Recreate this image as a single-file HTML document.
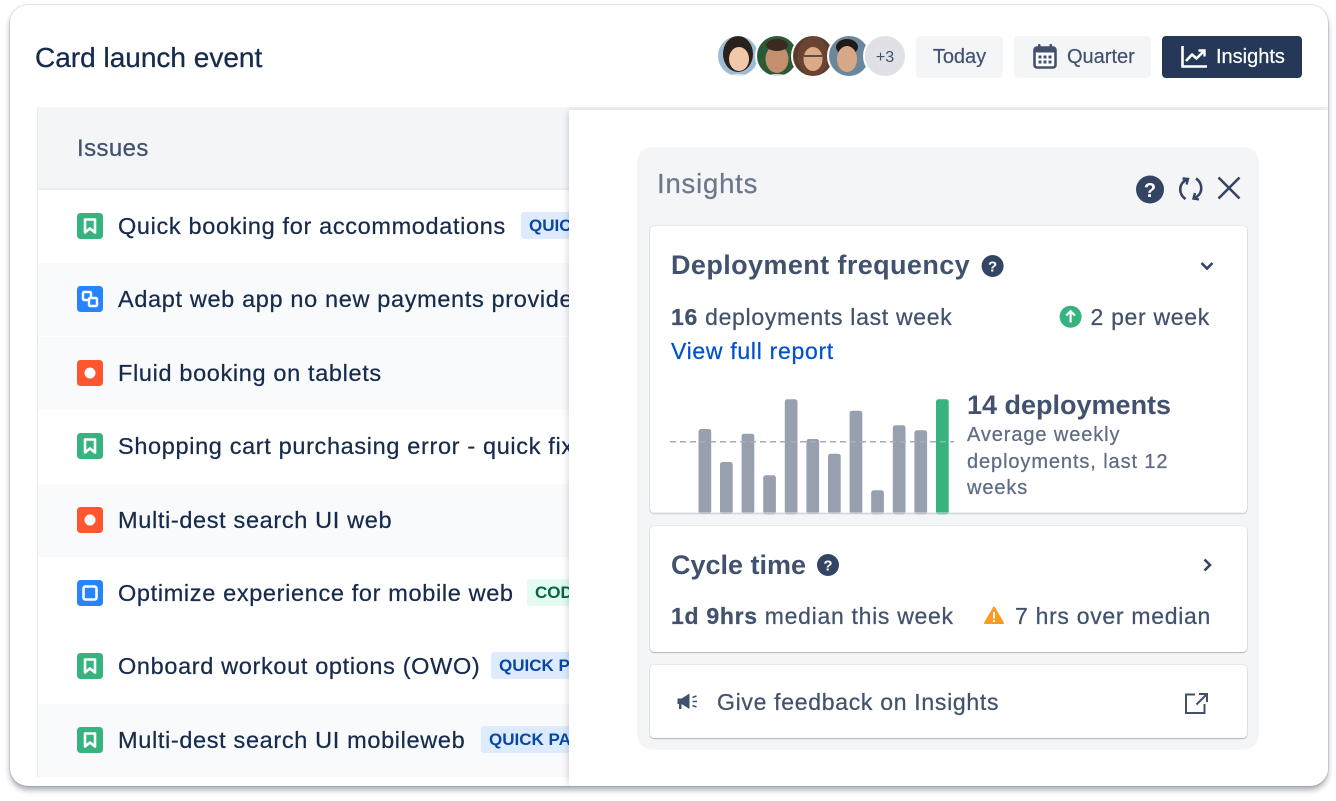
<!DOCTYPE html>
<html><head><meta charset="utf-8">
<style>
*{box-sizing:border-box;margin:0;padding:0}
html,body{width:1336px;height:801px;background:#fff;overflow:hidden;font-family:"Liberation Sans",Arial,sans-serif}
.card{position:absolute;left:10px;top:5px;width:1318px;height:781px;border-radius:18px;overflow:hidden;background:#fff;box-shadow:0 0 0 1px rgba(9,30,66,0.10),0 4px 6px rgba(60,70,90,0.45)}
.layer{position:absolute;left:-10px;top:-5px;width:1336px;height:801px}
.t{position:absolute;white-space:nowrap}
.row{position:absolute;left:38px;width:531px;height:73px;z-index:1}
.rt{position:absolute;left:118px;font-size:23.5px;letter-spacing:0.65px;color:#172b4d;line-height:30px;white-space:nowrap;z-index:2;-webkit-text-stroke:0.25px #172b4d}
.tag{position:absolute;height:27px;line-height:27px;padding:0 8px;border-radius:3px;font-weight:bold;font-size:17px;white-space:nowrap;z-index:2;background:#deebff;color:#0747a6}
.btn{position:absolute;top:36px;height:42px;border-radius:4px;background:#f4f5f7;color:#42526e;font-size:20px;line-height:42px;white-space:nowrap;-webkit-text-stroke:0.2px #42526e}
.pc{position:absolute;background:#fff;border-radius:4px;box-shadow:0 1px 1px rgba(9,30,66,0.25),0 0 1px rgba(9,30,66,0.35);z-index:6}
.pt{position:absolute;white-space:nowrap;color:#42526e;z-index:7;-webkit-text-stroke:0.25px currentColor}
</style></head><body>
<div class="card"><div class="layer">

<div class="t" style="left:35px;top:41px;font-size:28px;line-height:34px;color:#172b4d;-webkit-text-stroke:0.3px #172b4d">Card launch event</div>

<div class="btn" style="left:916px;width:87px;text-align:center">Today</div>
<div class="btn" style="left:1014px;width:137px"><span style="position:absolute;left:53px">Quarter</span></div>
<div class="btn" style="left:1162px;width:140px;background:#253858;color:#fff;-webkit-text-stroke:0.2px #fff"><span style="position:absolute;left:54px">Insights</span></div>

<!-- board -->
<div style="position:absolute;left:37px;top:107px;width:1291px;height:670px;background:#fff;border-left:1px solid #e6e8ec"></div>
<div style="position:absolute;left:37px;top:107px;width:1291px;height:3px;background:#eef0f2"></div>
<div style="position:absolute;left:38px;top:107px;width:531px;height:83px;background:#f4f5f7;border-bottom:2px solid #ebecf0"></div>
<div class="t" style="left:77px;top:134px;font-size:24px;letter-spacing:0.4px;line-height:30px;color:#42526e;-webkit-text-stroke:0.25px #42526e">Issues</div>

<div class="row" style="top:190px;background:#fff"></div>
<div class="row" style="top:263px;background:#f9fafb"></div>
<div class="row" style="top:337px;background:#f9fafb"></div>
<div class="row" style="top:410px;background:#fff"></div>
<div class="row" style="top:484px;background:#f9fafb"></div>
<div class="row" style="top:557px;background:#fff"></div>
<div class="row" style="top:630px;background:#fff"></div>
<div class="row" style="top:704px;height:73px;background:#f9fafb"></div>

<div class="rt" style="top:211px">Quick booking for accommodations</div>
<div class="rt" style="top:284px">Adapt web app no new payments provider</div>
<div class="rt" style="top:358px">Fluid booking on tablets</div>
<div class="rt" style="top:431px">Shopping cart purchasing error - quick fix</div>
<div class="rt" style="top:505px">Multi-dest search UI web</div>
<div class="rt" style="top:578px">Optimize experience for mobile web</div>
<div class="rt" style="top:651px">Onboard workout options (OWO)</div>
<div class="rt" style="top:725px">Multi-dest search UI mobileweb</div>

<div class="tag" style="left:521px;top:212px">QUICK PAYMENTS</div>
<div class="tag" style="left:527px;top:579px;background:#e3fcef;color:#006644">CODE REVIEW</div>
<div class="tag" style="left:491px;top:652px">QUICK PAYMENTS</div>
<div class="tag" style="left:481px;top:726px">QUICK PAYMENTS</div>

<!-- insights panel -->
<div style="position:absolute;left:569px;top:110px;width:759px;height:676px;background:#fff;z-index:5;box-shadow:-3px 0 6px -2px rgba(9,30,66,0.18)"></div>
<div style="position:absolute;left:637px;top:147px;width:622px;height:603px;background:#f4f5f7;border-radius:16px;z-index:5"></div>
<div class="pt" style="left:657px;top:167px;font-size:27.5px;letter-spacing:0.8px;line-height:34px;color:#6b778c">Insights</div>

<div class="pc" style="left:650px;top:226px;width:597px;height:287px"></div>
<div class="pt" style="left:671px;top:249px;font-size:27px;font-weight:bold;letter-spacing:0.4px;line-height:32px;-webkit-text-stroke:0">Deployment frequency</div>
<div class="pt" style="left:671px;top:302px;font-size:23px;letter-spacing:0.7px;line-height:30px"><b>16</b> deployments last week</div>
<div class="pt" style="left:1010px;width:200px;text-align:right;top:302px;font-size:23px;letter-spacing:0.7px;line-height:30px">2 per week</div>
<div class="pt" style="left:671px;top:336px;font-size:23px;letter-spacing:0.7px;line-height:30px;color:#0052cc">View full report</div>
<div class="pt" style="left:967px;top:389px;font-size:27px;font-weight:bold;letter-spacing:0px;line-height:32px;-webkit-text-stroke:0">14 deployments</div>
<div class="pt" style="left:967px;top:422px;font-size:20px;letter-spacing:0.9px;line-height:26.5px;color:#5e6c84">Average weekly<br>deployments, last 12<br>weeks</div>

<div class="pc" style="left:650px;top:526px;width:597px;height:126px"></div>
<div class="pt" style="left:671px;top:549px;font-size:27px;font-weight:bold;letter-spacing:0px;line-height:32px;-webkit-text-stroke:0">Cycle time</div>
<div class="pt" style="left:671px;top:601px;font-size:23px;letter-spacing:0.7px;line-height:30px"><b>1d 9hrs</b> median this week</div>
<div class="pt" style="left:1000px;width:211px;text-align:right;top:601px;font-size:23px;letter-spacing:0.7px;line-height:30px">7 hrs over median</div>

<div class="pc" style="left:650px;top:665px;width:597px;height:73px"></div>
<div class="pt" style="left:717px;top:687px;font-size:23px;letter-spacing:0.7px;line-height:30px">Give feedback on Insights</div>

<svg style="position:absolute;left:0;top:0;z-index:10" width="1336" height="801" viewBox="0 0 1336 801">
<defs>
<clipPath id="c1"><circle cx="738" cy="56" r="20.5"/></clipPath>
<clipPath id="c2"><circle cx="777" cy="56" r="20.5"/></clipPath>
<clipPath id="c3"><circle cx="813" cy="56" r="20.5"/></clipPath>
<clipPath id="c4"><circle cx="849" cy="56" r="20.5"/></clipPath>
</defs>
<!-- avatars -->
<g clip-path="url(#c1)">
<rect x="715" y="33" width="46" height="46" fill="#9dbdd6"/>
<ellipse cx="738" cy="54" rx="15" ry="18" fill="#2a211d"/>
<ellipse cx="739" cy="59" rx="10" ry="12" fill="#f0c9aa"/>
<ellipse cx="738" cy="82" rx="16" ry="8" fill="#e6e8ee"/>
</g>
<circle cx="738" cy="56" r="21" fill="none" stroke="#fff" stroke-width="2"/>
<g clip-path="url(#c2)">
<rect x="754" y="33" width="46" height="46" fill="#2d5a36"/>
<ellipse cx="777" cy="59" rx="11.5" ry="14" fill="#c48f6c"/>
<ellipse cx="777" cy="45" rx="11" ry="6" fill="#3b2a20"/>
<ellipse cx="777" cy="83" rx="18" ry="9" fill="#d8d8d8"/>
</g>
<circle cx="777" cy="56" r="21" fill="none" stroke="#fff" stroke-width="2"/>
<g clip-path="url(#c3)">
<rect x="790" y="33" width="46" height="46" fill="#5b3b2c"/>
<ellipse cx="813" cy="56" rx="15" ry="20" fill="#6a4430"/>
<ellipse cx="813" cy="59" rx="9.5" ry="12" fill="#dcaa88"/>
<line x1="804" y1="56" x2="822" y2="56" stroke="#3a2a22" stroke-width="1.5"/>
</g>
<circle cx="813" cy="56" r="21" fill="none" stroke="#fff" stroke-width="2"/>
<g clip-path="url(#c4)">
<rect x="826" y="33" width="46" height="46" fill="#6b879c"/>
<ellipse cx="847" cy="47" rx="11" ry="8" fill="#1f1a17"/>
<ellipse cx="847" cy="59" rx="10" ry="13" fill="#d7a888"/>
<ellipse cx="847" cy="84" rx="16" ry="8" fill="#2b2b30"/>
</g>
<circle cx="849" cy="56" r="21" fill="none" stroke="#fff" stroke-width="2"/>
<circle cx="885" cy="56" r="21" fill="#dfe1e6" stroke="#fff" stroke-width="2"/>
<text x="885" y="62" text-anchor="middle" font-family="Liberation Sans, Arial, sans-serif" font-size="16" fill="#42526e">+3</text>

<!-- calendar icon -->
<rect x="1034.5" y="47.5" width="21" height="20" rx="2.5" fill="#fff" stroke="#42526e" stroke-width="2.6"/>
<rect x="1034.5" y="47.5" width="21" height="5" fill="#42526e"/>
<rect x="1038" y="44" width="2.6" height="6" rx="1" fill="#42526e"/>
<rect x="1049.5" y="44" width="2.6" height="6" rx="1" fill="#42526e"/>
<g fill="#42526e">
<rect x="1038.5" y="55.5" width="3" height="3"/><rect x="1043.5" y="55.5" width="3" height="3"/><rect x="1048.5" y="55.5" width="3" height="3"/>
<rect x="1038.5" y="60.5" width="3" height="3"/><rect x="1043.5" y="60.5" width="3" height="3"/><rect x="1048.5" y="60.5" width="3" height="3"/>
</g>
<!-- insights chart icon -->
<path d="M1182.5 46 V66.5 H1207" fill="none" stroke="#fff" stroke-width="2.6"/>
<path d="M1186 61 L1192 54.5 L1196.5 58.5 L1204 51" fill="none" stroke="#fff" stroke-width="2.6" stroke-linejoin="round"/>
<path d="M1198.5 50.5 H1204.5 V56.5" fill="none" stroke="#fff" stroke-width="2.4"/>

<!-- list icons -->
<g>
<rect x="77" y="213" width="26" height="26" rx="3.5" fill="#36b37e"/>
<path d="M85 219.5 h10 v13 l-5 -4 l-5 4 z" fill="none" stroke="#fff" stroke-width="2.6" stroke-linejoin="round"/>

<rect x="77" y="286" width="26" height="26" rx="3.5" fill="#2684ff"/>
<rect x="83" y="292" width="8" height="8" rx="1" fill="none" stroke="#fff" stroke-width="2.4"/>
<rect x="89" y="298" width="8" height="8" rx="1" fill="#2684ff" stroke="#fff" stroke-width="2.4"/>

<rect x="77" y="360" width="26" height="26" rx="3.5" fill="#ff5630"/>
<circle cx="90" cy="373" r="5.5" fill="#fff"/>

<rect x="77" y="433" width="26" height="26" rx="3.5" fill="#36b37e"/>
<path d="M85 439.5 h10 v13 l-5 -4 l-5 4 z" fill="none" stroke="#fff" stroke-width="2.6" stroke-linejoin="round"/>

<rect x="77" y="507" width="26" height="26" rx="3.5" fill="#ff5630"/>
<circle cx="90" cy="520" r="5.5" fill="#fff"/>

<rect x="77" y="580" width="26" height="26" rx="3.5" fill="#2684ff"/>
<rect x="83.5" y="586.5" width="13" height="13" rx="2" fill="#2684ff" stroke="#fff" stroke-width="2.6"/>

<rect x="77" y="653" width="26" height="26" rx="3.5" fill="#36b37e"/>
<path d="M85 659.5 h10 v13 l-5 -4 l-5 4 z" fill="none" stroke="#fff" stroke-width="2.6" stroke-linejoin="round"/>

<rect x="77" y="727" width="26" height="26" rx="3.5" fill="#36b37e"/>
<path d="M85 733.5 h10 v13 l-5 -4 l-5 4 z" fill="none" stroke="#fff" stroke-width="2.6" stroke-linejoin="round"/>
</g>

<!-- panel header icons -->
<circle cx="1150" cy="189.5" r="14" fill="#344563"/>
<text x="1150" y="197" text-anchor="middle" font-family="Liberation Sans, Arial, sans-serif" font-weight="bold" font-size="20" fill="#fff">?</text>
<path d="M1185.5 199 C1178 194 1178.5 183 1187 179.5" fill="none" stroke="#344563" stroke-width="2.6"/>
<path d="M1182.5 178.5 L1188 179 L1186.5 184.5" fill="none" stroke="#344563" stroke-width="2.4"/>
<path d="M1196 178.5 C1203.5 183.5 1203 194.5 1194.5 198" fill="none" stroke="#344563" stroke-width="2.6"/>
<path d="M1199 199.5 L1193.5 198.5 L1195 193" fill="none" stroke="#344563" stroke-width="2.4"/>
<path d="M1218.5 177.5 L1239.5 198.5 M1239.5 177.5 L1218.5 198.5" stroke="#344563" stroke-width="2.6"/>

<!-- card1 icons -->
<circle cx="992.6" cy="266" r="11" fill="#344563"/>
<text x="992.6" y="271.5" text-anchor="middle" font-family="Liberation Sans, Arial, sans-serif" font-weight="bold" font-size="15" fill="#fff">?</text>
<path d="M1201.5 263 L1207 268.5 L1212.5 263" fill="none" stroke="#344563" stroke-width="2.6"/>
<circle cx="1070.6" cy="316.7" r="11" fill="#36b37e"/>
<path d="M1070.6 322.5 V311.5 M1066.3 315.5 L1070.6 311.2 L1074.9 315.5" fill="none" stroke="#fff" stroke-width="2.2"/>

<!-- bars -->
<g fill="#97a0af">
<rect x="698.5" y="429" width="12.7" height="85" rx="2.5"/>
<rect x="720" y="462" width="12.7" height="52" rx="2.5"/>
<rect x="741.6" y="433.7" width="12.7" height="80" rx="2.5"/>
<rect x="763.2" y="475.3" width="12.7" height="39" rx="2.5"/>
<rect x="784.8" y="399.3" width="12.7" height="115" rx="2.5"/>
<rect x="806.4" y="439" width="12.7" height="75" rx="2.5"/>
<rect x="828" y="453.7" width="12.7" height="60" rx="2.5"/>
<rect x="849.6" y="410.7" width="12.7" height="103" rx="2.5"/>
<rect x="871.2" y="490.3" width="12.7" height="24" rx="2.5"/>
<rect x="892.8" y="425.3" width="12.7" height="89" rx="2.5"/>
<rect x="914.4" y="430.3" width="12.7" height="84" rx="2.5"/>
</g>
<rect x="936" y="399.3" width="12.7" height="115" rx="2.5" fill="#36b37e"/>
<line x1="670" y1="441.7" x2="954" y2="441.7" stroke="#a5adba" stroke-width="1.5" stroke-dasharray="6 4"/>
<rect x="651" y="512.5" width="595" height="1" fill="#dfe1e6"/>

<!-- card2 icons -->
<circle cx="828" cy="565" r="11" fill="#344563"/>
<text x="828" y="570.5" text-anchor="middle" font-family="Liberation Sans, Arial, sans-serif" font-weight="bold" font-size="15" fill="#fff">?</text>
<path d="M1204.5 559.5 L1210 565 L1204.5 570.5" fill="none" stroke="#344563" stroke-width="2.6"/>
<path d="M994 607.5 L1003 623 H985 Z" fill="#ff991f" stroke="#ff991f" stroke-width="2" stroke-linejoin="round"/>
<rect x="993" y="612" width="2" height="6.5" fill="#fff"/>
<rect x="993" y="620" width="2" height="2" fill="#fff"/>

<!-- card3 icons -->
<path d="M677.5 698.5 h4 l8 -5 v15.5 l-8 -5 h-4 z" fill="#42526e"/>
<rect x="679" y="703" width="2.5" height="6" fill="#42526e"/>
<path d="M692.5 697.5 l4 -1.5 M692.5 701.5 h4.5 M692.5 705.5 l4 1.5" stroke="#42526e" stroke-width="1.6"/>
<path d="M1195 694.5 H1186 V713 H1204.5 V704" fill="none" stroke="#42526e" stroke-width="2"/>
<path d="M1199 694 H1207 V702 M1207 694 L1196.5 704.5" fill="none" stroke="#42526e" stroke-width="2"/>
</svg>

</div></div>
</body></html>
